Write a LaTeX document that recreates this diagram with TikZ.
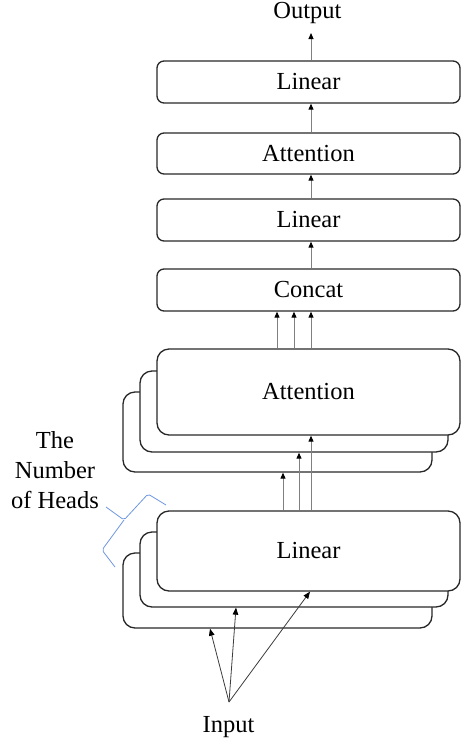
\documentclass[tikz,border=0pt]{standalone}
\usepackage{fontspec}
\setmainfont{Liberation Serif}
\usetikzlibrary{arrows.meta}
\definecolor{boxc}{RGB}{40,40,40}
\definecolor{arrc}{RGB}{128,128,128}
\definecolor{inc}{RGB}{60,60,60}
\definecolor{bracec}{RGB}{110,150,225}
\begin{document}
\begin{tikzpicture}[x=1pt,y=-1pt,
  txt/.style={font=\fontsize{24.5}{30}\selectfont},
  box/.style={txt, draw=boxc, line width=1.3pt, rounded corners=7pt, fill=white,
    minimum width=303pt, minimum height=42pt, inner sep=0pt},
  sbox/.style={box, rounded corners=12pt},
  arr/.style={draw=arrc, line width=1pt, -{Triangle[length=6pt,width=5pt,color=black]}},
  inarr/.style={draw=inc, line width=0.8pt, -{Triangle[length=7pt,width=5.5pt,color=black]}},
  lbl/.style={txt, inner sep=0pt}]
\useasboundingbox (0,0) rectangle (461,744);

% top single boxes
\node[box] (lin3) at (308.5,82) {Linear};
\node[box, minimum height=41pt] (att2) at (308.5,153.5) {Attention};
\node[box] (lin2) at (308.5,220) {Linear};
\node[box] (cat) at (308.5,290) {Concat};

% attention stack
\node[sbox, minimum width=309pt, minimum height=80pt] (attc) at (277.5,432) {};
\node[sbox, minimum width=308pt, minimum height=81pt] (attb) at (294,411.5) {};
\node[sbox, minimum width=303pt, minimum height=86pt] (atta) at (308.5,392) {Attention};

% linear stack
\node[sbox, minimum width=309pt, minimum height=75pt] (linc) at (277.5,590.5) {};
\node[sbox, minimum width=308pt, minimum height=75pt] (linb) at (294,569.5) {};
\node[sbox, minimum width=303pt, minimum height=80pt] (lina) at (308.5,551) {Linear};

% labels
\node[lbl, anchor=base] (out) at (307.5,18) {Output};
\node[lbl, anchor=base] (inp) at (228.5,732) {Input};
\node[lbl, align=center] (heads) at (55,470) {The\\Number\\of Heads};

\coordinate (outtip) at (311,33);
\coordinate (src) at (229,702);

% arrows top
\draw[arr] ([xshift=2.5pt]lin3.north) -- (outtip);
\draw[arr] ([xshift=2.5pt]att2.north) -- ([xshift=2.5pt]lin3.south);
\draw[arr] ([xshift=2.5pt]lin2.north) -- ([xshift=2.5pt]att2.south);
\draw[arr] ([xshift=2.5pt]cat.north) -- ([xshift=2.5pt]lin2.south);

% attention stack to concat
\draw[arr] ([xshift=-31.5pt]atta.north) -- ([xshift=-31.5pt]cat.south);
\draw[arr] ([xshift=-14.5pt]atta.north) -- ([xshift=-14.5pt]cat.south);
\draw[arr] ([xshift=2.5pt]atta.north) -- ([xshift=2.5pt]cat.south);

% linear stack to attention stack
\draw[arr] ([xshift=-25.5pt]lina.north) -- ([xshift=5.5pt]attc.south);
\draw[arr] ([xshift=-9.5pt]lina.north) -- ([xshift=5pt]attb.south);
\draw[arr] ([xshift=2.5pt]lina.north) -- ([xshift=2.5pt]atta.south);

% input arrows
\draw[inarr] (src) -- ([xshift=-67.5pt]linc.south);
\draw[inarr] (src) -- ([xshift=-58pt]linb.south);
\draw[inarr] (src) -- ([xshift=1.5pt]lina.south);

% brace
\draw[bracec, line width=0.8pt, rounded corners=2pt]
  (166,505) -- (148,494) -- (124,520) -- (106,507);
\draw[bracec, line width=0.8pt, rounded corners=2pt]
  (124,520) -- (102,550) -- (115,567);
\end{tikzpicture}
\end{document}
